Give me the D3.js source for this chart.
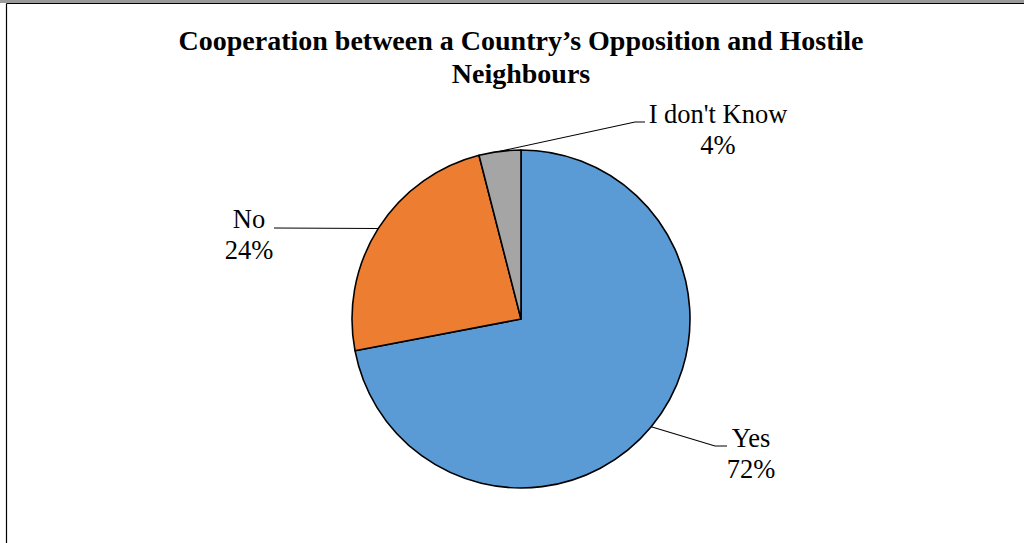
<!DOCTYPE html>
<html>
<head>
<meta charset="utf-8">
<script src="https://cdn.jsdelivr.net/npm/d3@7"></script>
<style>
  html, body { margin: 0; padding: 0; background: #fff; }
  svg { display: block; }
</style>
</head>
<body>
<svg id="chart" width="1024" height="543"></svg>
<script>
// Survey responses
const categories = ["Yes", "No", "I don't Know"];
const values = [72, 24, 4];
const colors = ["#5B9BD5", "#ED7D31", "#A5A5A5"];
const titleLines = ["Cooperation between a Country\u2019s Opposition and Hostile", "Neighbours"];

const W = 1024, H = 543;
const svg = d3.select("#chart");
const font = "'Liberation Serif', 'Times New Roman', serif";

// Frame
svg.append("rect").attr("x", 0).attr("y", 0).attr("width", W).attr("height", 3).attr("fill", "#9a9a9a");
svg.append("line").attr("x1", 6.5).attr("x2", W).attr("y1", 3.5).attr("y2", 3.5)
  .attr("stroke", "#000").attr("stroke-width", 1.2);
svg.append("line").attr("x1", 6.5).attr("x2", 6.5).attr("y1", 3.5).attr("y2", H)
  .attr("stroke", "#000").attr("stroke-width", 1.2);

// Title
svg.append("text")
  .attr("x", 521).attr("y", 50)
  .attr("text-anchor", "middle")
  .attr("font-family", font).attr("font-weight", "bold").attr("font-size", 28)
  .selectAll("tspan").data(titleLines).join("tspan")
  .attr("x", 521).attr("dy", (d, i) => i === 0 ? 0 : 33)
  .text(d => d);

// Pie
const cx = 521, cy = 319, r = 169;
const data = categories.map((c, i) => ({ name: c, value: values[i], color: colors[i] }));
const pie = d3.pie().value(d => d.value).sort(null);
const arcs = pie(data);
const arc = d3.arc().innerRadius(0).outerRadius(r);

const g = svg.append("g").attr("transform", `translate(${cx},${cy})`);
g.selectAll("path").data(arcs).join("path")
  .attr("d", arc)
  .attr("fill", d => d.data.color)
  .attr("stroke", "#000")
  .attr("stroke-width", 1.6)
  .attr("stroke-linejoin", "round");

// Leader lines: from slice midpoint on the rim to an elbow, then a short horizontal run
const total = d3.sum(values);
const pct = v => Math.round(v / total * 100) + "%";
const rim = a => [cx + r * Math.sin(a), cy - r * Math.cos(a)];
const mid = d => (d.startAngle + d.endAngle) / 2;

const leaders = [
  { elbow: [715, 446], end: [727, 446], text: [751, 447] },   // Yes
  { elbow: null, end: [274, 228], text: [249, 228] },          // No
  { elbow: [635, 122], end: [645, 122], text: [718, 123] }     // I don't Know
];

arcs.forEach((d, i) => {
  const L = leaders[i];
  const p0 = rim(mid(d));
  const pts = L.elbow ? [p0, L.elbow, L.end] : [p0, L.end];
  svg.append("path")
    .attr("d", d3.line()(pts))
    .attr("fill", "none").attr("stroke", "#000").attr("stroke-width", 1.1);

  const t = svg.append("text")
    .attr("text-anchor", "middle")
    .attr("font-family", font).attr("font-size", 26.5).attr("fill", "#000");
  t.append("tspan").attr("x", L.text[0]).attr("y", L.text[1]).text(d.data.name);
  t.append("tspan").attr("x", L.text[0]).attr("y", L.text[1] + 31).text(pct(d.data.value));
});
</script>
</body>
</html>
